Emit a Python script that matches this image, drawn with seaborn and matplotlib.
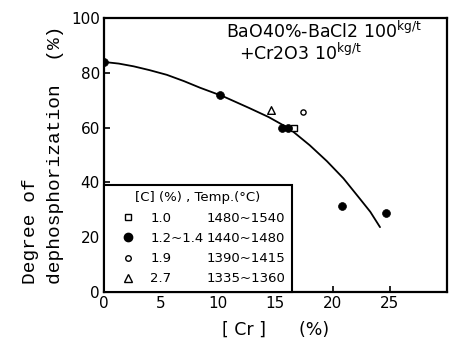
import numpy as np
import pandas as pd
import matplotlib
matplotlib.use("Agg")
import matplotlib.pyplot as plt
from matplotlib.lines import Line2D
import seaborn as sns

cr_square = [16.6]
dp_square = [60.0]
cr_filled = [0.0, 10.15, 15.6, 16.1, 20.8, 24.7]
dp_filled = [84.0, 71.9, 60.0, 60.0, 31.5, 28.9]
cr_open = [17.4]
dp_open = [65.7]
cr_triangle = [14.65]
dp_triangle = [66.5]

# Fitted curve drawn by hand in the original
curve_cr = [0.0, 1.3, 2.6, 4.0, 5.5, 7.0, 8.4, 10.4, 12.7, 14.4, 15.9, 16.45,
            18.0, 19.5, 20.95, 22.4, 23.3, 24.15]
curve_dp = [84.0, 83.4, 82.4, 81.0, 79.3, 77.0, 74.6, 71.5, 67.2, 63.9, 60.4, 58.9,
            53.6, 47.8, 41.5, 34.0, 29.3, 23.7]

# Legend entries
legend_c = ["1.0", "1.2~1.4", "1.9", "2.7"]
legend_temp = ["1480~1540", "1440~1480", "1390~1415", "1335~1360"]

x_ticks = [0, 5, 10, 15, 20, 25]
y_ticks = [0, 20, 40, 60, 80, 100]


def main():
    sns.set_style("ticks")
    plt.rcParams["font.family"] = ["DejaVu Sans"]
    plt.rcParams["text.color"] = "black"

    fig = plt.figure(figsize=(4.56, 3.42), dpi=100)
    ax = fig.add_axes([0.228, 0.146, 0.752, 0.801])

    curve = pd.DataFrame({"cr": curve_cr, "dp": curve_dp})
    sns.lineplot(data=curve, x="cr", y="dp", color="black", linewidth=1.3, ax=ax)

    sns.scatterplot(x=cr_square, y=dp_square, marker="s", s=14, color="white",
                    edgecolor="black", linewidth=1.0, ax=ax, zorder=3)
    sns.scatterplot(x=cr_filled, y=dp_filled, marker="o", s=32, color="black",
                    edgecolor="black", linewidth=0.5, ax=ax, zorder=3)
    sns.scatterplot(x=cr_open, y=dp_open, marker="o", s=14, color="white",
                    edgecolor="black", linewidth=1.0, ax=ax, zorder=3)
    sns.scatterplot(x=cr_triangle, y=dp_triangle, marker="^", s=30, color="white",
                    edgecolor="black", linewidth=1.0, ax=ax, zorder=3)

    ax.set_xlim(0, 30)
    ax.set_ylim(0, 100)
    ax.set_xticks(x_ticks)
    ax.set_yticks(y_ticks)
    ax.tick_params(direction="in", length=4, width=1.2, labelsize=11, pad=3,
                   colors="black", labelcolor="black")
    for sp in ax.spines.values():
        sp.set_linewidth(1.6)
        sp.set_color("black")

    ax.set_xlabel("[ Cr ]      (%)", fontsize=12.5, labelpad=7, color="black")
    ax.set_ylabel("Degree of\ndephosphorization  (%)", fontsize=14,
                  family="Liberation Mono", multialignment="left",
                  linespacing=1.6, labelpad=5, color="black")

    ax.text(0.355, 0.952, "BaO40%-BaCl2 100$^{\\mathregular{kg/t}}$",
            transform=ax.transAxes, fontsize=12.5, ha="left", va="center")
    ax.text(0.395, 0.872, "+Cr2O3 10$^{\\mathregular{kg/t}}$",
            transform=ax.transAxes, fontsize=12.5, ha="left", va="center")

    handles = [
        Line2D([], [], ls="none", marker="s", ms=4, mfc="white", mec="black", mew=1.0),
        Line2D([], [], ls="none", marker="o", ms=6, mfc="black", mec="black"),
        Line2D([], [], ls="none", marker="o", ms=4, mfc="white", mec="black", mew=1.0),
        Line2D([], [], ls="none", marker="^", ms=5.5, mfc="white", mec="black", mew=1.0),
    ]
    blanks = [Line2D([], [], ls="none") for _ in legend_temp]
    leg = ax.legend(handles + blanks, legend_c + legend_temp, ncol=2,
                    title="[C] (%) , Temp.(°C)", title_fontsize=9.5, fontsize=9.5,
                    loc="lower left", bbox_to_anchor=(0.0, 0.0), borderaxespad=0,
                    frameon=True, fancybox=False, framealpha=1,
                    handlelength=2.7, handletextpad=0.3, columnspacing=-2.75,
                    labelspacing=0.55, borderpad=0.5)
    leg.get_frame().set_edgecolor("black")
    leg.get_frame().set_linewidth(1.5)

    fig.savefig("out.png", dpi=100)
    plt.close(fig)


if __name__ == "__main__":
    main()
